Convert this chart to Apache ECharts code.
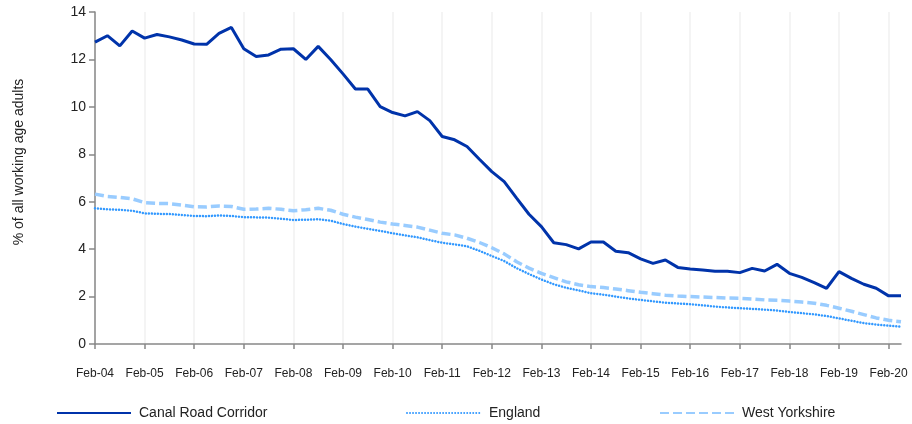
<!DOCTYPE html>
<html>
<head>
<meta charset="utf-8">
<script src="https://cdn.jsdelivr.net/npm/echarts@6/dist/echarts.min.js"></script>
<style>
  html, body { margin: 0; padding: 0; background: #fff; }
  #chart { width: 912px; height: 424px; }
</style>
</head>
<body>
<div id="chart"></div>
<script>
// quarterly, Feb-04 .. May-20
var months = ['Feb', 'May', 'Aug', 'Nov'];
var firstYear = 4, quarterCount = 66;

var canalRoad = [
  12.73, 13.0, 12.57, 13.2, 12.9, 13.05, 12.95, 12.82, 12.65, 12.64,
  13.1, 13.35, 12.45, 12.12, 12.19, 12.43, 12.45, 12.0, 12.55, 12.0,
  11.39, 10.75, 10.75, 10.01, 9.76, 9.62, 9.8, 9.42, 8.75, 8.61,
  8.33, 7.79, 7.27, 6.85, 6.15, 5.47, 4.95, 4.27, 4.19, 4.01,
  4.3, 4.3, 3.91, 3.85, 3.59, 3.4, 3.54, 3.23, 3.16, 3.12,
  3.07, 3.07, 3.01, 3.19, 3.08, 3.36, 2.98, 2.81, 2.59, 2.35,
  3.05, 2.77, 2.52, 2.35, 2.03, 2.03
];
var england = [
  5.72, 5.68, 5.66, 5.62, 5.51, 5.49, 5.48, 5.44, 5.4, 5.39,
  5.42, 5.4, 5.35, 5.34, 5.33, 5.28, 5.23, 5.24, 5.26, 5.2,
  5.06, 4.95, 4.86, 4.77, 4.67, 4.58, 4.5, 4.38, 4.27, 4.2,
  4.12, 3.93, 3.71, 3.5, 3.2, 2.95, 2.72, 2.52, 2.37, 2.26,
  2.14, 2.08, 2.0, 1.92, 1.86, 1.8, 1.74, 1.71, 1.68, 1.63,
  1.58, 1.54, 1.51, 1.48, 1.45, 1.41, 1.35, 1.3, 1.25, 1.18,
  1.08, 0.98, 0.88, 0.82, 0.77, 0.73
];
var westYorkshire = [
  6.32, 6.22, 6.18, 6.12, 5.96, 5.93, 5.92, 5.86, 5.79, 5.78,
  5.82, 5.8, 5.68, 5.69, 5.72, 5.68, 5.62, 5.66, 5.72, 5.64,
  5.47, 5.35, 5.25, 5.14, 5.06, 5.0, 4.93, 4.8, 4.67, 4.6,
  4.46, 4.28, 4.06, 3.8, 3.47, 3.2, 2.98, 2.8, 2.62, 2.5,
  2.42, 2.38, 2.32, 2.25, 2.18, 2.12, 2.06, 2.02, 2.0, 1.98,
  1.96, 1.94, 1.93, 1.9, 1.86, 1.84, 1.81, 1.77, 1.72, 1.63,
  1.51, 1.38, 1.24, 1.1, 1.0, 0.94
];
var seriesNames = ['Canal Road Corridor', 'England', 'West Yorkshire'];

// quarter labels
var quarters = [];
for (var i = 0; i < quarterCount; i++) {
  var yr = firstYear + Math.floor(i / 4);
  quarters.push(months[i % 4] + '-' + (yr < 10 ? '0' + yr : yr));
}

var myChart = echarts.init(document.getElementById('chart'));

var legendBase = function (left, name) {
  return {
    left: left,
    top: 401,
    itemWidth: 74,
    itemHeight: 14,
    data: [name],
    selectedMode: false,
    itemStyle: { opacity: 0 },
    textStyle: {
      fontFamily: 'Liberation Sans, Arial, sans-serif',
      fontSize: 14,
      color: '#222',
      padding: [0, 0, 8, 3]
    }
  };
};

var option = {
  animation: false,
  grid: { left: 95, right: 11, top: 12, bottom: 80 },
  legend: [
    legendBase(51, seriesNames[0]),
    legendBase(401, seriesNames[1]),
    legendBase(654, seriesNames[2])
  ],
  xAxis: {
    type: 'category',
    data: quarters,
    boundaryGap: false,
    axisLine: { lineStyle: { color: '#888', width: 1.5 } },
    axisTick: { interval: 3, length: 5, lineStyle: { color: '#888', width: 1.5 } },
    axisLabel: {
      interval: 3,
      margin: 24,
      fontFamily: 'Liberation Sans Narrow, Arial Narrow, sans-serif',
      fontSize: 12,
      color: '#222'
    },
    splitLine: { show: true, interval: 3, lineStyle: { color: '#f0f0f0', width: 1.5 } }
  },
  yAxis: {
    type: 'value',
    min: 0,
    max: 14,
    interval: 2,
    name: '% of all working age adults',
    nameLocation: 'middle',
    nameGap: 69,
    nameTextStyle: {
      fontFamily: 'Liberation Sans, Arial, sans-serif',
      fontSize: 14,
      color: '#222',
      padding: [0, 0, 0, 32]
    },
    axisLine: { show: true, lineStyle: { color: '#888', width: 1.5 } },
    axisTick: { show: true, length: 6, lineStyle: { color: '#888', width: 1.5 } },
    axisLabel: { margin: 9, fontFamily: 'Liberation Sans, Arial, sans-serif', fontSize: 14, color: '#222' },
    splitLine: { show: false }
  },
  series: [
    {
      name: seriesNames[1],
      type: 'line',
      data: england,
      symbol: 'none',
      lineStyle: { color: '#3399ff', width: 2.5, type: [0.01, 3], cap: 'round' },
      itemStyle: { color: '#3399ff' }
    },
    {
      name: seriesNames[2],
      type: 'line',
      data: westYorkshire,
      symbol: 'none',
      lineStyle: { color: '#99ccff', width: 3.5, type: [9, 4] },
      itemStyle: { color: '#99ccff' }
    },
    {
      name: seriesNames[0],
      type: 'line',
      data: canalRoad,
      symbol: 'none',
      lineStyle: { color: '#0033aa', width: 3 },
      itemStyle: { color: '#0033aa' }
    }
  ]
};

myChart.setOption(option);
</script>
</body>
</html>
